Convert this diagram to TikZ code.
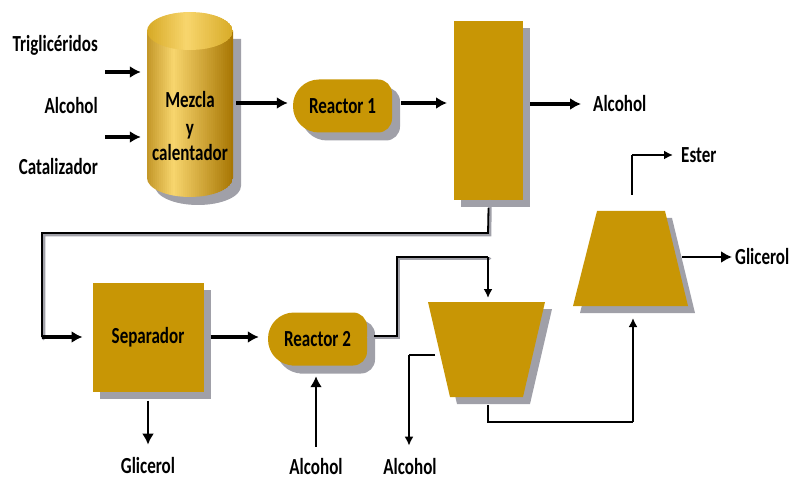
\documentclass[tikz,border=0pt]{standalone}
\usepackage{fontspec}
\setmainfont{Carlito}[FakeStretch=0.74]
\usetikzlibrary{shadows,arrows.meta}
\definecolor{gold}{RGB}{200,150,5}
\definecolor{goldlight}{RGB}{248,214,110}
\definecolor{golddark}{RGB}{165,115,0}
\definecolor{shadowgray}{RGB}{160,160,168}
\tikzset{
  txt/.style={font=\fontsize{23}{25}\selectfont\bfseries, inner sep=0pt},
  unit/.style={fill=gold, draw=none, inner sep=0pt, outer sep=0pt,
    drop shadow={shadow xshift=7pt, shadow yshift=-7pt, fill=shadowgray, opacity=1},
    font=\fontsize{23}{25}\selectfont\bfseries},
  reactorlabel/.style={txt, minimum width=99pt, minimum height=52pt},
  flow/.style={line width=3.4pt, -{Latex[length=11pt,width=12pt]}},
  pipe/.style={line width=1.8pt},
  pipeshadow/.style={line width=3.6pt, shadowgray, line cap=round},
  thin arrow/.style={pipe, -{Latex[length=9pt,width=9pt]}},
}
% capsule-like reactor body: semicircular on the left, rounded corners on the right
\newcommand\reactorbody[2]{%
  \begin{scope}[shift={(#1,#2)}]
    \fill[shadowgray] [rounded corners=26pt] (8,-18.5) -- (-41.5,-18.5) -- (-41.5,34.5) -- (8,34.5)
      [rounded corners=14pt] -- (57.5,34.5) -- (57.5,-18.5) -- cycle;
    \fill[gold] [rounded corners=26pt] (0,-26.5) -- (-49.5,-26.5) -- (-49.5,26.5) -- (0,26.5)
      [rounded corners=14pt] -- (49.5,26.5) -- (49.5,-26.5) -- cycle;
  \end{scope}}
\begin{document}
\begin{tikzpicture}[x=1pt,y=-1pt]
\useasboundingbox (0,0) rectangle (792,486);

% mixing and heating vessel: shadow, shaded body built from vertical strips, lid
\fill[shadowgray] (155,39) -- (155,186) arc[start angle=180, end angle=0, x radius=43, y radius=19] -- (241,39) -- cycle;
\begin{scope}
  \clip (147,31) -- (147,178) arc[start angle=180, end angle=0, x radius=43, y radius=19] -- (233,31) -- cycle;
  \foreach \i in {0,...,43} {
    \pgfmathsetmacro\u{(\i+0.5)/44}
    \pgfmathtruncatemacro\m{\u<0.3 ? 100*(0.35+0.65*\u/0.3) : 100*(1-\u)/0.7}
    \fill[goldlight!\m!golddark] ({147+2*\i},0) rectangle ({147+2*\i+2.2},200);
  }
\end{scope}
\begin{scope}
  \clip (190,31) ellipse[x radius=43, y radius=19];
  \foreach \i in {0,...,43} {
    \pgfmathsetmacro\u{(\i+0.5)/44}
    \pgfmathtruncatemacro\m{\u<0.45 ? 100*(0.3+0.7*\u/0.45) : 100*(0.3+0.7*(1-\u)/0.55)}
    \fill[goldlight!\m!gold] ({147+2*\i},0) rectangle ({147+2*\i+2.2},60);
  }
\end{scope}
\node[txt, align=center, minimum width=86pt] (mix) at (190,126)
  {Mezcla\\[3pt]y\\calentador};

% feed labels
\node[txt, anchor=east] (trig) at (98,45) {Triglicéridos};
\node[txt, anchor=east] (alc0) at (98,106) {Alcohol};
\node[txt, anchor=east] (cat) at (98,167) {Catalizador};
\coordinate (in1) at (105,72);
\coordinate (in2) at (105,137);
\draw[flow] (in1) -- ([xshift=-6pt]mix.west |- in1);
\draw[flow] (in2) -- ([xshift=-6pt]mix.west |- in2);

% first stage
\reactorbody{342.5}{106}
\node[reactorlabel] (r1) at (342.5,106) {Reactor 1};
\draw[flow, shorten <=3pt, shorten >=5pt] (mix.east |- 0,103) -- (r1.west |- 0,103);
\node[unit, minimum width=69pt, minimum height=179pt] (col) at (488.5,110.5) {};
\draw[flow, shorten <=9pt, shorten >=7pt] (r1.east |- 0,103) -- (col.west |- 0,103);
\node[txt, anchor=west] (alc1) at (593,104) {Alcohol};
\draw[flow, shorten <=7pt, shorten >=12pt] (col.east |- alc1.west) -- (alc1.west);

% recycle to separator
\node[unit, minimum width=111pt, minimum height=109pt] (sep) at (148,337) {Separador};
\coordinate (c1) at (488,233);
\coordinate (c2) at (42,233);
\coordinate (c3) at (42,337);
\draw[pipeshadow] ([shift={(1.5,1.5)}]col.south) -- ([shift={(1.5,1.5)}]c1) -- ([shift={(1.5,1.5)}]c2) -- ([shift={(1.5,1.5)}]c3);
\draw[pipe] ([yshift=-8pt]col.south) -- (c1) -- (c2) -- (c3);
\draw[flow, shorten >=10pt] (c3) -- (sep.west);

% separator outlets
\node[txt] (gli1) at (148,466) {Glicerol};
\draw[flow, line width=2.6pt, shorten <=9pt, shorten >=13pt] (sep.south) -- (gli1.north);

% second stage
\reactorbody{317.5}{339}
\node[reactorlabel] (r2) at (317.5,339) {Reactor 2};
\draw[flow, shorten <=7pt, shorten >=9pt] (sep.east) -- (sep.east -| r2.west);
\node[txt] (alc2) at (316,467) {Alcohol};
\draw[flow, line width=2.6pt, shorten <=12pt, shorten >=11pt] (alc2.north) -- (alc2.north |- r2.south);

% decanters
\fill[shadowgray] (435,309) -- (552,309) -- (530,404) -- (457,404) -- cycle;
\fill[gold] (428,302) -- (545,302) -- (523,397) -- (450,397) -- cycle;
\coordinate (dec1top) at (488,302);
\coordinate (dec1bot) at (488,397);
\fill[shadowgray] (604,218) -- (672,218) -- (695,313) -- (580,313) -- cycle;
\fill[gold] (597,211) -- (665,211) -- (688,306) -- (573,306) -- cycle;
\coordinate (dec2top) at (632,211);
\coordinate (dec2bot) at (633,306);

\coordinate (d1) at (397,336);
\coordinate (d2) at (397,257);
\coordinate (d3) at (488,257);
\draw[pipeshadow] ([shift={(1.5,1.5)}]r2.east |- d1) -- ([shift={(1.5,1.5)}]d1) -- ([shift={(1.5,1.5)}]d2) -- ([shift={(1.5,1.5)}]d3);
\draw[pipe] ([xshift=7pt]r2.east |- d1) -- (d1) -- (d2) -- (d3);
\draw[thin arrow, shorten >=4pt] (d3) -- (dec1top);

% light phase of first decanter
\coordinate (e1) at (435,355);
\coordinate (e2) at (409,355);
\node[txt] (alc3) at (410,467) {Alcohol};
\draw[pipe] (e1) -- (e2);
\draw[thin arrow, shorten >=13pt] (e2) -- (e2 |- alc3.north);

% heavy phase to second decanter
\coordinate (f1) at (488,422);
\coordinate (f2) at (633,422);
\draw[pipe] ([yshift=-8pt]dec1bot) -- (f1) -- (f2);
\draw[thin arrow, shorten >=12pt] (f2) -- (dec2bot);

% second decanter outlets
\node[txt, anchor=west] (est) at (681,155) {Ester};
\coordinate (g1) at ([yshift=16pt]dec2top);
\draw[pipe, line width=2.4pt] (g1) -- (g1 |- est.west);
\draw[thin arrow, line width=2.4pt, shorten >=8pt] (g1 |- est.west) -- (est.west);
\node[txt, anchor=west] (gli2) at (735,257) {Glicerol};
\coordinate (h1) at (682,257);
\draw[flow, line width=2.6pt, shorten >=3pt] (h1) -- (gli2.west);
\end{tikzpicture}
\end{document}
